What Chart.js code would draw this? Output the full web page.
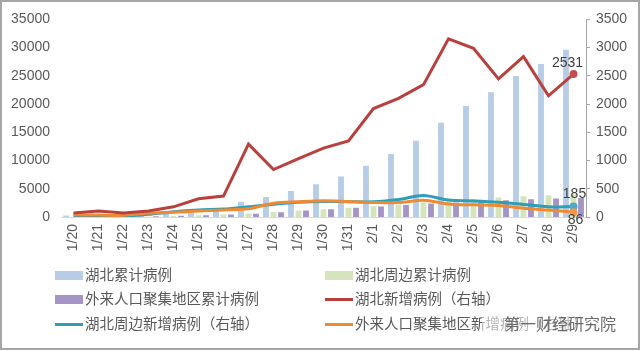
<!DOCTYPE html>
<html>
<head>
<meta charset="utf-8">
<script src="https://cdn.jsdelivr.net/npm/chart.js@4"></script>
<style>
  html, body { margin: 0; padding: 0; background: #fff; }
  #wrap { position: relative; width: 640px; height: 351px; overflow: hidden; }
  #frame { position: absolute; left: 0; top: 0; width: 636px; height: 346px; border: 2px solid #a6a6a6; }
  canvas { position: absolute; left: 0; top: 0; }
  .lg { position: absolute; font-family: "Noto Sans CJK SC", sans-serif; font-size: 14.5px; color: #595959; line-height: 18px; white-space: nowrap; }
  .sw { position: absolute; }
  #mark { position: absolute; left: 482px; top: 312px; font-family: "Noto Sans CJK SC", sans-serif; font-size: 16px; color: #6a6a6a;
          background: rgba(255,255,255,0.55); padding: 0 4px 0 22px; line-height: 22px; }
</style>
</head>
<body>
<div id="wrap">
  <div id="frame"></div>
  <canvas id="chart" width="640" height="351"></canvas>
  <div id="legend"></div>
  <div id="mark">第一财经研究院</div>
</div>
<script>
// categories
const days = ['1/20', '1/21', '1/22', '1/23', '1/24', '1/25', '1/26', '1/27', '1/28', '1/29', '1/30',
              '1/31', '2/1', '2/2', '2/3', '2/4', '2/5', '2/6', '2/7', '2/8', '2/9'];

// cumulative cases (left axis)
const hubeiTotal = [270, 375, 444, 549, 729, 1052, 1423, 2714, 3554, 4586, 5806,
                    7153, 9074, 11177, 13522, 16678, 19665, 22112, 24953, 27100, 29631];
const nearTotal = [0, 7, 17, 64, 159, 317, 445, 636, 873, 1142, 1372,
                   1647, 1925, 2233, 2596, 2892, 3180, 3438, 3668, 3847, 4032];
const migrantTotal = [20, 50, 73, 151, 227, 329, 447, 596, 859, 1134, 1390,
                      1644, 1879, 2114, 2381, 2577, 2781, 2983, 3145, 3271, 3357];

// new cases (right axis)
const hubeiNew = [72, 105, 69, 105, 180, 323, 371, 1291, 840, 1032, 1220,
                  1347, 1921, 2103, 2345, 3156, 2987, 2447, 2841, 2147, 2531];
const nearNew = [5, 10, 15, 47, 95, 125, 140, 180, 225, 260, 275,
                 270, 268, 308, 380, 300, 285, 262, 222, 180, 185];
const migrantNew = [40, 35, 30, 70, 85, 105, 125, 145, 245, 270, 287,
                    274, 258, 255, 298, 232, 215, 204, 155, 122, 86];

// axis ticks
const leftTicks = [0, 5000, 10000, 15000, 20000, 25000, 30000, 35000];
const rightTicks = [0, 500, 1000, 1500, 2000, 2500, 3000, 3500];

const seriesNames = ['湖北累计病例', '湖北周边累计病例', '外来人口聚集地区累计病例',
                     '湖北新增病例（右轴）', '湖北周边新增病例（右轴）', '外来人口聚集地区新增病例（右轴）'];

const colors = {
    blue: '#b7cce6',
    green: '#d6e4bc',
    purple: '#a594c6',
    red: '#b8403d',
    teal: '#2e9db6',
    orange: '#ef8a33'
};

const last = days.length - 1;
const lastOnly = r => ctx => ctx.dataIndex === last ? r : 0;

function lineSet(label, data, color, pointColor, order, tension) {
    return {
        type: 'line',
        label,
        data,
        yAxisID: 'y2',
        borderColor: color,
        borderWidth: 3,
        tension,
        pointRadius: lastOnly(4),
        pointHoverRadius: 0,
        pointBackgroundColor: pointColor,
        pointBorderWidth: 0,
        order
    };
}

function barSet(label, data, color) {
    return {
        type: 'bar',
        label,
        data,
        yAxisID: 'y',
        backgroundColor: color,
        categoryPercentage: 0.9,
        barPercentage: 0.78,
        order: 10
    };
}

// value labels on the last point of each line
const endLabels = {
    id: 'endLabels',
    afterDatasetsDraw(chart) {
        const { ctx } = chart;
        const spec = [[3, -6, -11], [4, 1, -12], [5, 2, 8]];
        ctx.save();
        ctx.font = '14px "Liberation Sans", sans-serif';
        ctx.fillStyle = '#404040';
        ctx.textAlign = 'center';
        ctx.textBaseline = 'middle';
        spec.forEach(([i, dx, dy]) => {
            const pt = chart.getDatasetMeta(i).data[last];
            ctx.fillText(String(chart.data.datasets[i].data[last]), pt.x + dx, pt.y + dy);
        });
        ctx.restore();
    }
};

const tickFont = { family: '"Liberation Sans", sans-serif', size: 14 };
const plain = v => String(v);

new Chart(document.getElementById('chart'), {
    data: {
        labels: days,
        datasets: [
            barSet(seriesNames[0], hubeiTotal, colors.blue),
            barSet(seriesNames[1], nearTotal, colors.green),
            barSet(seriesNames[2], migrantTotal, colors.purple),
            lineSet(seriesNames[3], hubeiNew, colors.red, '#c0504d', 1, 0),
            lineSet(seriesNames[4], nearNew, colors.teal, '#4bacc6', 3, 0.3),
            lineSet(seriesNames[5], migrantNew, colors.orange, '#f79646', 2, 0.3)
        ]
    },
    options: {
        responsive: false,
        animation: false,
        events: [],
        layout: { padding: { top: 17, left: 0, right: 0, bottom: 0 } },
        plugins: { legend: { display: false }, tooltip: { enabled: false } },
        scales: {
            x: {
                grid: { display: false, drawTicks: false },
                border: { display: true, color: '#d9d9d9' },
                ticks: { color: '#595959', font: tickFont, minRotation: 90, maxRotation: 90, padding: 7, autoSkip: false },
                afterFit: s => { s.height = 134; }
            },
            y: {
                position: 'left',
                min: 0, max: 35000,
                afterBuildTicks: s => { s.ticks = leftTicks.map(v => ({ value: v })); },
                grid: { display: false, drawTicks: false },
                border: { display: false },
                ticks: { color: '#595959', font: tickFont, padding: 11, callback: plain },
                afterFit: s => { s.width = 61; }
            },
            y2: {
                position: 'right',
                min: 0, max: 3500,
                afterBuildTicks: s => { s.ticks = rightTicks.map(v => ({ value: v })); },
                grid: { drawOnChartArea: false, color: '#a6a6a6', tickLength: 4 },
                border: { display: true, color: '#a6a6a6' },
                ticks: { color: '#595959', font: tickFont, padding: 6, callback: plain },
                afterFit: s => { s.width = 54; }
            }
        }
    },
    plugins: [endLabels]
});

// two-column legend under the axis
const legendItems = [
    { kind: 'bar', color: colors.blue, x: 55, y: 275 },
    { kind: 'bar', color: colors.green, x: 325, y: 275 },
    { kind: 'bar', color: colors.purple, x: 55, y: 299 },
    { kind: 'line', color: colors.red, x: 325, y: 299 },
    { kind: 'line', color: colors.teal, x: 55, y: 324 },
    { kind: 'line', color: colors.orange, x: 325, y: 324 }
];
const legend = document.getElementById('legend');
legendItems.forEach((item, i) => {
    const sw = document.createElement('div');
    sw.className = 'sw';
    const h = item.kind === 'bar' ? 9 : 3;
    sw.style.cssText = `left:${item.x}px;top:${item.y - h / 2}px;width:28px;height:${h}px;background:${item.color}`;
    legend.appendChild(sw);
    const tx = document.createElement('div');
    tx.className = 'lg';
    tx.textContent = seriesNames[i];
    tx.style.left = (item.x + 30) + 'px';
    tx.style.top = (item.y - 10) + 'px';
    legend.appendChild(tx);
});
</script>
</body>
</html>
